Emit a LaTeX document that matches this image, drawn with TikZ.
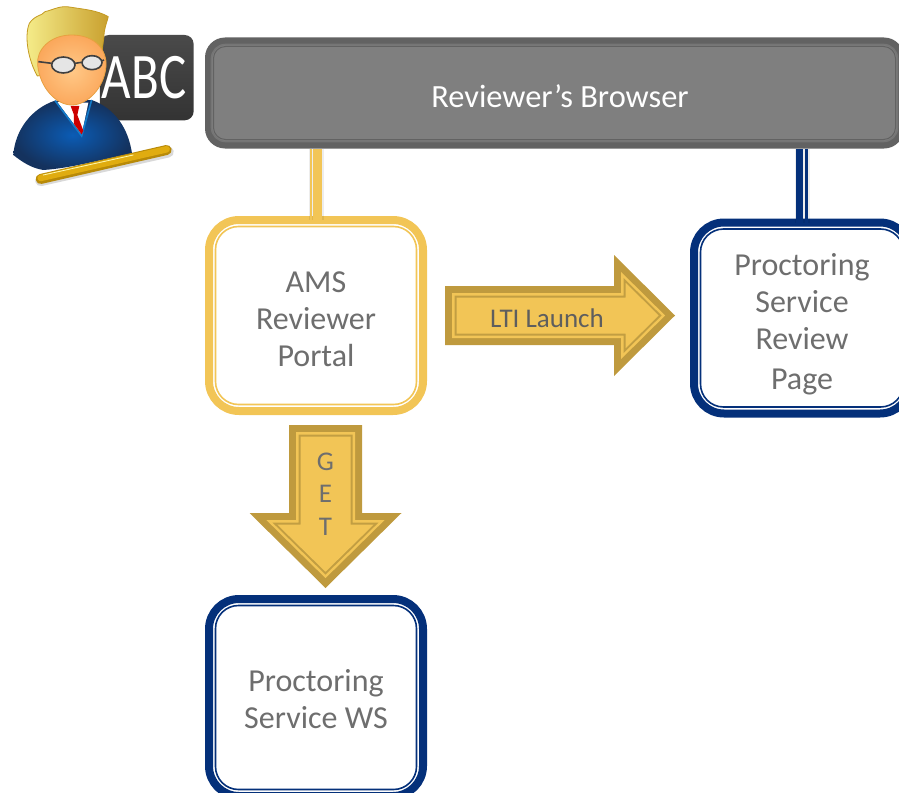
\documentclass[tikz,border=0pt]{standalone}
\usepackage{fontspec}
\setmainfont{Carlito}
\usetikzlibrary{calc}
\definecolor{goldline}{HTML}{F2C556}
\definecolor{golddark}{HTML}{BF9A3E}
\definecolor{goldmid}{HTML}{C29E42}
\definecolor{navyline}{HTML}{04307A}
\definecolor{txtgray}{HTML}{6E6E6E}
\definecolor{brdark}{HTML}{626262}
\definecolor{brmid}{HTML}{7F7F7F}
\definecolor{brlight}{HTML}{757575}
\definecolor{boardtop}{HTML}{4A4A4A}
\definecolor{boardbot}{HTML}{333333}
\definecolor{suitin}{HTML}{0B5CB5}
\definecolor{suitout}{HTML}{14325E}
\definecolor{hairl}{HTML}{F6EE8C}
\definecolor{hairr}{HTML}{C9A02E}
\definecolor{hairedge}{HTML}{C49A22}
\definecolor{skinin}{HTML}{FFC988}
\definecolor{skinout}{HTML}{FBA85C}
\definecolor{skinedge}{HTML}{E8A040}
\definecolor{penfill}{HTML}{E0AC10}
\definecolor{penedge}{HTML}{B88A08}
\newcommand{\arrowpoly}[6]{% colour, inset, length, neck, half shaft, half head
  \pgfmathsetmacro{\ad}{#2}
  \pgfmathsetmacro{\adk}{1.414*\ad}
  \pgfmathsetmacro{\adh}{2.414*\ad}
  \fill[#1] (\ad,-#5+\ad) -- (#4+\ad,-#5+\ad) -- (#4+\ad,-#6+\adh) -- (#3-\adk,0)
    -- (#4+\ad,#6-\adh) -- (#4+\ad,#5-\ad) -- (\ad,#5-\ad) -- cycle;}
\newcommand{\goldarrow}[6]{% origin, rotation, length, neck, half shaft, half head
  \begin{scope}[shift={(#1)},rotate=#2]
    \arrowpoly{golddark}{0}{#3}{#4}{#5}{#6}
    \arrowpoly{goldline}{7}{#3}{#4}{#5}{#6}
    \arrowpoly{goldmid}{9.5}{#3}{#4}{#5}{#6}
    \arrowpoly{goldline}{11.5}{#3}{#4}{#5}{#6}
  \end{scope}}
\tikzset{
  x=1pt,y=-1pt,
  boxnode/.style={draw=#1,line width=8pt,fill=white,rounded corners=30pt,outer sep=0pt,inner sep=0pt,
    text=txtgray,align=center,font=\fontsize{32}{37}\selectfont},
  boxinner/.style={draw=#1,line width=1.6pt,rounded corners=23pt},
  linkshadow/.style={line width=15pt,black,opacity=.07},
  linkthick/.style={line width=#1},
  linkthin/.style={line width=#1},
  arrowtext/.style={text=#1,font=\fontsize{27}{32.5}\selectfont,align=center,inner sep=0pt},
  iconedge/.style={line width=.8pt,line join=round}
}
\begin{document}
\begin{tikzpicture}
\useasboundingbox (0,0) rectangle (899,792);
\clip (0,0) rectangle (899,792);

% browser
\node[draw=none,fill=brdark,rounded corners=20pt,minimum width=699pt,minimum height=111pt,outer sep=0pt,inner sep=0pt] (browser) at (554.5,93) {};
\draw[draw=brlight,line width=1.6pt,rounded corners=14pt,fill=brmid]
  ($(browser.north west)+(6.5,7)$) rectangle ($(browser.south east)+(-6.5,-7)$);
\draw[brdark,line width=1pt,rounded corners=12pt]
  ($(browser.north west)+(8.5,9)$) rectangle ($(browser.south east)+(-8.5,-9)$);
\node[text=white,font=\fontsize{32.4}{36}\selectfont,inner sep=0pt] (browserlabel) at (560,96) {Reviewer’s Browser};

% boxes
\node[boxnode=goldline,minimum width=214pt,minimum height=191pt] (ams) at (316,315.5)
  {\rule{0pt}{28pt}AMS\\Reviewer\\Portal};
\node[boxnode=navyline,minimum width=216pt,minimum height=191pt] (review) at (802,318)
  {\rule{0pt}{34pt}Proctoring\\Service\\Review\\[3pt]Page};
\node[boxnode=navyline,minimum width=214pt,minimum height=197pt] (ws) at (316,697.5)
  {\rule{0pt}{25pt}Proctoring\\Service WS};

% connectors
\draw[linkshadow] (ams.north) -- (browser.south -| ams.north);
\draw[linkthick=9pt,goldline] ([xshift=1.5pt]ams.north) -- ([xshift=1.5pt]browser.south -| ams.north);
\draw[linkthin=1.6pt,goldline] ([xshift=-5.3pt]ams.north) -- ([xshift=-5.3pt]browser.south -| ams.north);
\draw[linkshadow] (review.north) -- (browser.south -| review.north);
\draw[linkthick=7pt,navyline] ([xshift=-2.5pt]review.north) -- ([xshift=-2.5pt]browser.south -| review.north);
\draw[linkthin=3pt,navyline] ([xshift=4.5pt]review.north) -- ([xshift=4.5pt]browser.south -| review.north);

% inner rings
\draw[boxinner=goldline] ($(ams.north west)+(6.5,6.5)$) rectangle ($(ams.south east)+(-6.5,-6.5)$);
\draw[boxinner=navyline] ($(review.north west)+(6.5,6.5)$) rectangle ($(review.south east)+(-6.5,-6.5)$);
\draw[boxinner=navyline] ($(ws.north west)+(6.5,6.5)$) rectangle ($(ws.south east)+(-6.5,-6.5)$);

% block arrows
\coordinate (ltifrom) at (445,315.5);
\coordinate (getfrom) at (325.5,425);
\goldarrow{ltifrom}{0}{230}{169}{29.5}{60.5}
\goldarrow{getfrom}{-90}{163}{88}{36.5}{76}
\node[arrowtext=txtgray!85!black] (ltilabel) at (547,318) {LTI Launch};
\node[arrowtext=txtgray] (getlabel) at (325.5,494) {G\\E\\T};

% reviewer icon
\begin{scope}[x=.3333pt,y=-.3333pt]
  % blackboard
  \shade[top color=boardtop,bottom color=boardbot,rounded corners=9pt]
    (300,105) rectangle (581,361);
  \node[text=white,font=\fontsize{50}{50}\selectfont,inner sep=0pt,yscale=1.3,xscale=1.02,transform shape] (abc) at (432,232) {ABC};
  % body
  \shade[inner color=suitin,outer color=suitout,iconedge]
    (40,465) .. controls (45,390) and (95,325) .. (165,302)
    -- (275,300) .. controls (345,325) and (385,385) .. (396,460)
    .. controls (300,480) and (210,505) .. (130,510)
    .. controls (95,505) and (65,485) .. (40,465) -- cycle;
  % collar and tie
  \fill[white] (172,306) -- (245,403) -- (265,308) -- cycle;
  \draw[cyan!60!blue,line width=1.6pt] (165,302) -- (245,408) -- (275,300);
  \fill[red!80!black] (212,318) -- (238,318) -- (232,345) -- (250,392) -- (245,403) -- (222,372) -- (222,345) -- cycle;
  % hair
  \shade[left color=hairl,right color=hairr,draw=hairedge,iconedge]
    (112,228) .. controls (85,180) and (72,110) .. (88,70)
    .. controls (105,45) and (125,48) .. (135,35)
    .. controls (165,28) and (180,15) .. (215,22)
    .. controls (250,28) and (290,30) .. (325,50)
    .. controls (320,70) and (312,85) .. (312,110)
    -- (300,200) -- cycle;
  % head
  \shade[inner color=skinin,outer color=skinout,draw=skinedge,iconedge]
    (215,105) .. controls (285,105) and (322,150) .. (318,200)
    .. controls (312,265) and (262,315) .. (215,315)
    .. controls (170,315) and (120,265) .. (113,195)
    .. controls (108,150) and (150,105) .. (215,105) -- cycle;
  % glasses
  \draw[black!75,line width=1.6pt] (115,185) -- (155,190);
  \draw[black!75,line width=1.6pt] (225,190) -- (245,187);
  \draw[black!75,line width=1.6pt] (305,183) -- (312,180);
  \fill[black!10,draw=black!75,line width=1.6pt] (190,195) ellipse (35 and 24);
  \fill[black!10,draw=black!75,line width=1.6pt] (276,188) ellipse (30 and 21);
  % pointer
  \draw[black!15,line width=11pt,line cap=round] (122,542) -- (505,456);
  \draw[penedge,line width=10pt,line cap=round] (122,537) -- (500,450);
  \draw[penfill,line width=6.5pt,line cap=round] (122,534) -- (500,448);
  \draw[white!70!yellow,line width=.8pt,line cap=round] (130,525) -- (400,465);
\end{scope}
\end{tikzpicture}
\end{document}
